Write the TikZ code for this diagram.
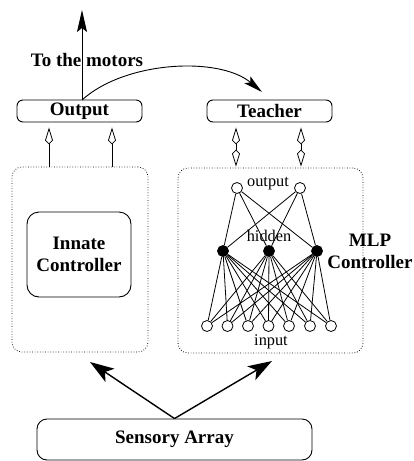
\documentclass[tikz,border=0pt]{standalone}
\usepackage{fontspec}
\setmainfont{Liberation Serif}
\usetikzlibrary{arrows.meta,calc}

\tikzset{
  boldtext/.style={font=\fontsize{19}{22}\selectfont\bfseries},
  smalltext/.style={font=\fontsize{16.3}{18}\selectfont},
  labelbox/.style={draw, line width=0.9pt, rounded corners=6pt, minimum height=22pt, inner sep=0pt, boldtext},
  dotbox/.style={draw, line width=0.8pt, dash pattern=on 0.7pt off 1.9pt, rounded corners=10pt, inner sep=0pt},
  solidbox/.style={draw, line width=0.9pt, rounded corners=12pt, inner sep=0pt, align=center, boldtext},
  unit/.style={circle, draw, line width=0.8pt, minimum size=11pt, inner sep=0pt, fill=white},
  hunit/.style={unit, fill=black},
  wire/.style={line width=0.8pt},
  hollowup/.style={line width=0.8pt, -{Kite[open, length=17pt, width=8pt, inset=4pt, line width=0.8pt]}},
  hollowboth/.style={line width=0.8pt, {Kite[open, length=17pt, width=8pt, inset=4pt, line width=0.8pt]}-{Kite[open, length=17pt, width=8pt, inset=4pt, line width=0.8pt]}},
  motorarrow/.style={line width=0.9pt, -{Stealth[length=22pt, width=10pt, inset=4pt]}},
  feedarrow/.style={line width=0.9pt, -{Stealth[length=19pt, width=9pt, inset=4pt]}},
  bigarrow/.style={line width=1.4pt, -{Stealth[length=24pt, width=16pt, inset=6pt]}},
}

\begin{document}
\begin{tikzpicture}[x=1pt, y=-1pt]
\useasboundingbox (0,0) rectangle (414,461);

% top row
\node[labelbox, minimum width=125pt] (out) at (79.5,111) {Output};
\node[labelbox, minimum width=125pt] (teach) at (269.5,111) {Teacher};

% controller frames
\node[dotbox, minimum width=136pt, minimum height=185pt] (lb) at (80,259.5) {};
\node[dotbox, minimum width=185pt, minimum height=185pt] (rb) at (270.5,260.5) {};

\node[solidbox, minimum width=104pt, minimum height=85pt] (innate) at (79,254.5) {Innate\\Controller};
\node[boldtext, align=center] (mlp) at (370,251) {MLP\\Controller};

% sensory input
\node[labelbox, rounded corners=10pt, minimum width=275pt, minimum height=41pt] (sens) at (174.5,439.5) {Sensory Array};

% motor output and teacher feedback
\coordinate (tap) at (82,100);
\coordinate (motor) at (82,10);
\coordinate (fb) at (262,92);
\node[boldtext] (motortxt) at (87,60) {To the motors};
\draw[motorarrow] (tap) -- (motor);
\draw[feedarrow] (tap) .. controls (125,61) and (219,56) .. (fb);

% links between frames and top boxes
\draw[hollowup, shorten >=5pt] (lb.north -| 49,0) -- (out.south -| 49,0);
\draw[hollowup, shorten >=5pt] (lb.north -| 112,0) -- (out.south -| 112,0);
\draw[hollowboth, shorten >=5pt, shorten <=1pt] (rb.north -| 236,0) -- (teach.south -| 236,0);
\draw[hollowboth, shorten >=5pt, shorten <=1pt] (rb.north -| 301,0) -- (teach.south -| 301,0);

% sensory fan-out
\coordinate (ltip) at (90,362);
\coordinate (rtip) at (272,361);
\draw[bigarrow] (sens.north) -- (ltip);
\draw[bigarrow] (sens.north) -- (rtip);

% MLP layers
\foreach \i/\x in {1/237,2/300} \node[unit] (o\i) at (\x,188) {};
\foreach \i/\x in {1/223,2/269,3/317} \node[hunit] (h\i) at (\x,251) {};
\foreach \i/\x in {1/207,2/227.5,3/248,4/268.5,5/289,6/310,7/331} \node[unit] (i\i) at (\x,326) {};

\foreach \o in {1,2} \foreach \h in {1,2,3} \draw[wire] (o\o) -- (h\h);
\foreach \h in {1,2,3} \foreach \k in {1,...,7} \draw[wire] (h\h) -- (i\k);

\node[smalltext] (outlbl) at (268,184) {output};
\node[smalltext] (hidlbl) at (269,236) {hidden};
\node[smalltext] (inlbl) at (271,342) {input};
\end{tikzpicture}
\end{document}
